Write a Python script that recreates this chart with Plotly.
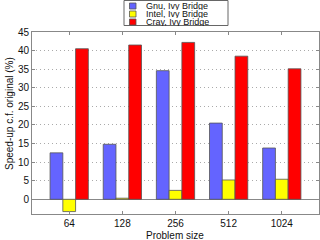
import plotly.graph_objects as go

categories = ["64", "128", "256", "512", "1024"]
gnu_values = [12.5, 14.8, 34.6, 20.5, 13.8]
intel_values = [-3.3, 0.3, 2.4, 5.2, 5.4]
cray_values = [40.5, 41.5, 42.2, 38.5, 35.1]
series_names = ["Gnu, Ivy Bridge", "Intel, Ivy Bridge", "Cray, Ivy Bridge"]
series_colors = ["#6464ff", "#ffff00", "#ff0000"]
y_ticks = [0, 5, 10, 15, 20, 25, 30, 35, 40, 45]

FONT = "Liberation Sans, Arial, sans-serif"
W, H = 320, 240
L, R, T, B = 32, 1, 32, 26
pw, ph = W - L - R, H - T - B

def px_x(p):
    return (p - L) / pw

def px_y(p):
    return (H - B - p) / ph

fig = go.Figure()
for name, vals, col in zip(series_names, [gnu_values, intel_values, cray_values], series_colors):
    fig.add_trace(go.Bar(
        x=list(range(len(categories))), y=vals, name=name,
        marker=dict(color=col, line=dict(color="#555555", width=0.8)),
        showlegend=False,
    ))

shapes = []
annotations = []
# legend box
shapes.append(dict(type="rect", xref="paper", yref="paper",
                   x0=px_x(124), x1=px_x(228), y0=px_y(25.5), y1=px_y(0.5),
                   line=dict(color="#666666", width=1), fillcolor="white", layer="above"))
for i, (name, col) in enumerate(zip(series_names, series_colors)):
    cy = 6 + 8 * i
    shapes.append(dict(type="rect", xref="paper", yref="paper",
                       x0=px_x(129.5), x1=px_x(136), y0=px_y(cy + 3), y1=px_y(cy - 3),
                       line=dict(color="#555555", width=0.8), fillcolor=col, layer="above"))
    annotations.append(dict(xref="paper", yref="paper", x=px_x(145), y=px_y(cy),
                            text=name, showarrow=False, xanchor="left", yanchor="middle",
                            height=8, valign="middle", borderpad=0,
                            font=dict(family=FONT, size=9, color="#111111")))

# axis titles
annotations.append(dict(xref="paper", yref="paper", x=px_x(175), y=px_y(235.5),
                        text="Problem size", showarrow=False, xanchor="center", yanchor="middle",
                        font=dict(family=FONT, size=10, color="#111111")))
annotations.append(dict(xref="paper", yref="paper", x=px_x(10), y=px_y(114),
                        text="Speed-up c.f. original (%)", showarrow=False, textangle=-90,
                        xanchor="center", yanchor="middle",
                        font=dict(family=FONT, size=10, color="#111111")))

fig.update_layout(
    width=W, height=H,
    margin=dict(l=L, r=R, t=T, b=B),
    paper_bgcolor="white", plot_bgcolor="white",
    barmode="group", bargap=0.28, bargroupgap=0,
    font=dict(family=FONT, size=10, color="#111111"),
    shapes=shapes, annotations=annotations,
    xaxis=dict(
        tickmode="array", tickvals=list(range(len(categories))), ticktext=categories,
        range=[-0.7, 4.7], showgrid=False, zeroline=False, automargin=False,
        showline=True, linecolor="#888888", linewidth=1, mirror="ticks",
        ticks="inside", ticklen=3, tickcolor="#888888",
        tickfont=dict(size=10),
    ),
    yaxis=dict(
        tickmode="array", tickvals=y_ticks, range=[-3.95, 45], automargin=False,
        showgrid=True, gridcolor="#aaaaaa", griddash="1px,3px", gridwidth=1,
        zeroline=True, zerolinecolor="#888888", zerolinewidth=1,
        showline=True, linecolor="#888888", linewidth=1, mirror="ticks",
        ticks="inside", ticklen=3, tickcolor="#888888",
        tickfont=dict(size=10),
    ),
)

fig.write_html("out.html", config={"displayModeBar": False},
               post_script="document.body.style.margin='0';document.body.style.overflow='hidden';")
